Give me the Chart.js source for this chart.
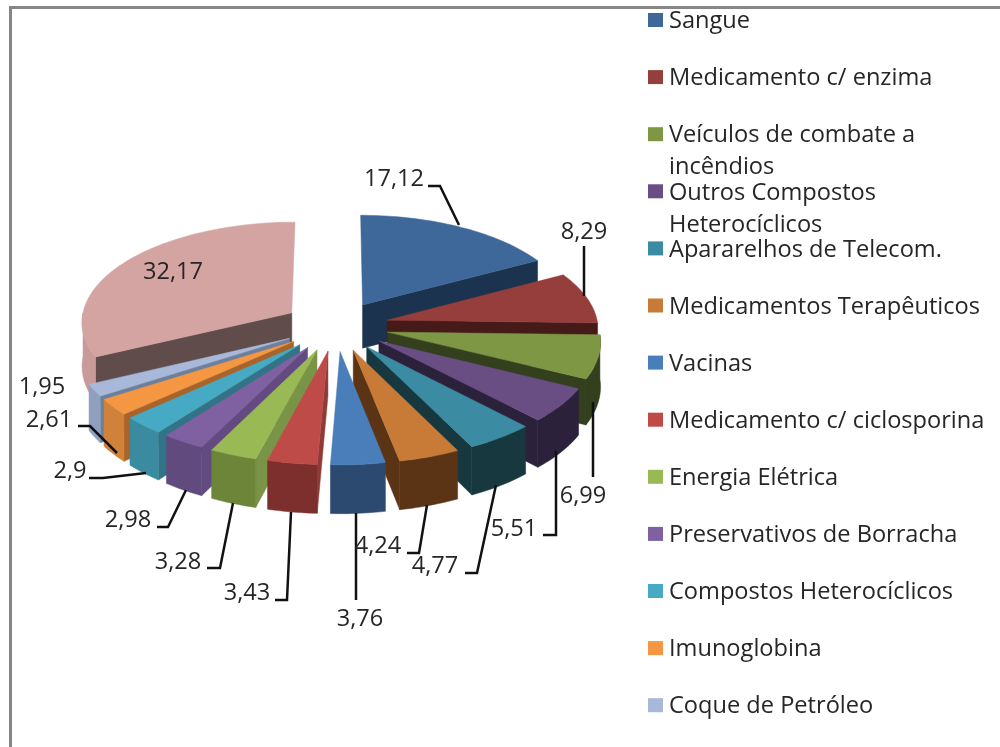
<!DOCTYPE html>
<html>
<head>
<meta charset="utf-8">
<title>Pizza 3D</title>
<script src="https://cdn.jsdelivr.net/npm/chart.js@4"></script>
<style>
  html, body { margin: 0; padding: 0; background: #fff; }
  canvas { display: block; }
</style>
</head>
<body>
<canvas id="pieChart" width="1000" height="747"></canvas>
<script>
// Chart data
const categories = [
  "Sangue", "Medicamento c/ enzima", ["Veículos de combate a", "incêndios"],
  ["Outros Compostos", "Heterocíclicos"], "Apararelhos de Telecom.", "Medicamentos Terapêuticos",
  "Vacinas", "Medicamento c/ ciclosporina", "Energia Elétrica", "Preservativos de Borracha",
  "Compostos Heterocíclicos", "Imunoglobina", "Coque de Petróleo"
];
const shares = [17.12, 8.29, 6.99, 5.51, 4.77, 4.24, 3.76, 3.43, 3.28, 2.98, 2.9, 2.61, 1.95, 32.17];

// Colours: top face, cut faces, outer wall
const topColors = ["#3e6899", "#963e3c", "#7d9745", "#694e84", "#3b8ba3", "#c87b36", "#4a7ebb",
  "#be4b48", "#98b954", "#7f60a1", "#46aac5", "#f59642", "#a7b8d8", "#d4a4a3"];
const cutColors = ["#1c334f", "#451a18", "#333f1d", "#2b213b", "#183840", "#5a3414", "#2c4a70",
  "#8e3a38", "#7a9447", "#634a80", "#327387", "#a8642a", "#6c7f9c", "#604c4b"];
const wallColors = ["#1c334f", "#451a18", "#333f1d", "#2b213b", "#183840", "#5a3414", "#2c4a70",
  "#7c2f2d", "#6c8539", "#614a7e", "#3a8aa0", "#d0823a", "#8fa0bf", "#c89a99"];

// Where each value label goes, and its leader line if it has one
const labelSpots = [[394, 178], [584, 231], [583, 495], [514, 528], [435, 565], [378, 545], [360, 618],
  [247, 592], [178, 561], [128, 519], [70, 470], [49, 419], [42, 386], [173, 271]];
const leaders = [
  [[428, 186], [440, 186], [459, 225]],
  [[584, 246], [584, 296]],
  [[593, 402], [593, 477]],
  [[543, 535], [556, 535], [556, 451]],
  [[465, 573], [477, 573], [496, 485]],
  [[407, 553], [419, 553], [427, 505]],
  [[356, 600], [356, 513]],
  [[275, 600], [287, 600], [291, 512]],
  [[207, 568], [220, 568], [233, 503]],
  [[157, 527], [168, 527], [186, 490]],
  [[89, 478], [103, 478], [146, 473]],
  [[78, 426], [90, 426], [117, 453]],
  [],
  []
];

// Perspective used to lay the flat pie down
const view = { cx: 336, cy: 326, rx: 211, ry: 100, tilt: 0.08, depth: 44 };
const fontName = "'Open Sans', sans-serif";

function project(u, v) {
  const w = 1 - view.tilt * v;
  return { x: view.cx + view.rx * u / w, y: view.cy + view.ry * v / w, drop: view.depth / w };
}

function fillPoly(ctx, pts, color) {
  ctx.fillStyle = color;
  ctx.strokeStyle = color;
  ctx.lineWidth = 0.5;
  ctx.beginPath();
  pts.forEach((p, i) => (i ? ctx.lineTo(p.x, p.y) : ctx.moveTo(p.x, p.y)));
  ctx.closePath();
  ctx.fill();
  ctx.stroke();
}

function rimPoints(b, a0, a1) {
  const pts = [];
  const steps = Math.max(2, Math.ceil((a1 - a0) * 40));
  for (let i = 0; i <= steps; i++) {
    const a = a0 + (a1 - a0) * i / steps;
    pts.push(project(b.u + Math.cos(a), b.v + Math.sin(a)));
  }
  return pts;
}

function dropped(pts) {
  return pts.map(p => ({ x: p.x, y: p.y + p.drop }));
}

// Draws the arcs Chart.js laid out as extruded wedges, back to front
const pie3d = {
  id: "pie3d",
  beforeDatasetDraw(chart, args) {
    const ctx = chart.ctx;
    const arcs = chart.getDatasetMeta(args.index).data.map((arc, i) => {
      const mid = (arc.startAngle + arc.endAngle) / 2;
      const e = arc.options.offset / arc.outerRadius;
      return { arc, i, b: { u: Math.cos(mid) * e, v: Math.sin(mid) * e } };
    });
    arcs.sort((p, q) => p.b.v - q.b.v);

    arcs.forEach(({ arc, i, b }) => {
      const a0 = arc.startAngle, a1 = arc.endAngle;
      const apex = project(b.u, b.v);

      // cut faces that look towards the viewer
      [[a0, -Math.cos(a0)], [a1, Math.cos(a1)]].forEach(([a, facing]) => {
        if (facing <= 0) return;
        const edge = [apex, project(b.u + Math.cos(a), b.v + Math.sin(a))];
        fillPoly(ctx, edge.concat(dropped(edge).reverse()), cutColors[i]);
      });

      // outer wall, only the part on the front half
      const shift = Math.floor(a0 / (2 * Math.PI)) * 2 * Math.PI;
      const from = Math.max(a0 - shift, 0), to = Math.min(a1 - shift, Math.PI);
      if (to > from) {
        const rim = rimPoints(b, from, to);
        fillPoly(ctx, rim.concat(dropped(rim).reverse()), wallColors[i]);
      }

      fillPoly(ctx, [apex].concat(rimPoints(b, a0, a1)), arc.options.backgroundColor);
    });
    return false; // the flat arcs are not drawn
  },
  afterDraw(chart) {
    const ctx = chart.ctx;
    ctx.save();

    // frame, cut off on the right and at the bottom
    ctx.strokeStyle = "#868686";
    ctx.lineWidth = 3;
    ctx.beginPath();
    ctx.moveTo(10.5, 747);
    ctx.lineTo(10.5, 7.5);
    ctx.lineTo(1000, 7.5);
    ctx.stroke();

    // leader lines
    ctx.strokeStyle = "#111";
    ctx.lineWidth = 2.5;
    leaders.forEach(line => {
      if (!line.length) return;
      ctx.beginPath();
      line.forEach((p, i) => (i ? ctx.lineTo(p[0], p[1]) : ctx.moveTo(p[0], p[1])));
      ctx.stroke();
    });

    // value labels
    ctx.fillStyle = "#262626";
    ctx.font = "23.6px " + fontName;
    ctx.textAlign = "center";
    ctx.textBaseline = "middle";
    shares.forEach((v, i) => {
      ctx.fillText(String(v).replace(".", ","), labelSpots[i][0], labelSpots[i][1] + 1.5);
    });

    // legend, the last entry falls outside the picture
    ctx.textAlign = "left";
    categories.forEach((name, i) => {
      const y = 20 + i * 57.1;
      ctx.fillStyle = topColors[i];
      ctx.fillRect(648, y - 7, 15, 14);
      ctx.fillStyle = "#262626";
      [].concat(name).forEach((line, j) => ctx.fillText(line, 669, y + 1.5 + j * 32));
    });
    ctx.restore();
  }
};

new Chart(document.getElementById("pieChart"), {
  type: "pie",
  data: {
    labels: categories,
    datasets: [{
      data: shares,
      backgroundColor: topColors,
      borderWidth: 0,
      offset: 40
    }]
  },
  options: {
    responsive: false,
    animation: false,
    radius: 160,
    plugins: { legend: { display: false }, tooltip: { enabled: false } }
  },
  plugins: [pie3d]
});
</script>
</body>
</html>
